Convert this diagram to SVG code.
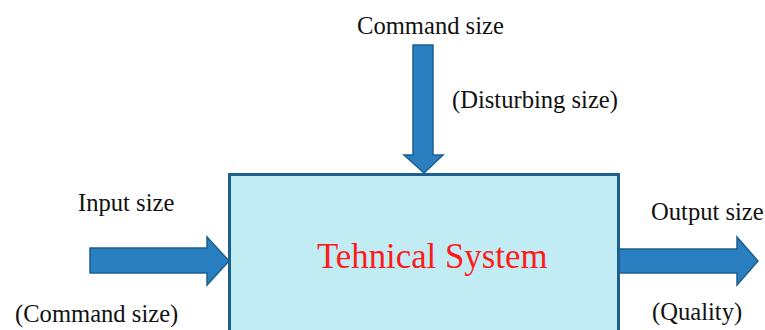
<svg xmlns="http://www.w3.org/2000/svg" width="765" height="330" viewBox="0 0 765 330">
  <style>
    .lbl { font-family: "Liberation Serif", "Times New Roman", serif; font-size: 24.6px; fill: #111111; }
    .title { font-family: "Liberation Serif", "Times New Roman", serif; font-size: 34.8px; fill: #ff1a1a; }
    .arrow { fill: #2a7fc0; stroke: #1d5f8e; stroke-width: 1.5; stroke-linejoin: miter; }
    .box { fill: #c2ecf3; stroke: #1d5f8e; stroke-width: 3; }
  </style>
  <rect width="765" height="330" fill="#ffffff"/>

  <g id="connectors">
    <!-- command / disturbance input from above -->
    <path class="arrow" d="M413,45 H433 V155 H443 L424,173 L404,155 H413 Z"/>
    <!-- input arrow from the left -->
    <path class="arrow" d="M90,248 H207 V237 L229,261 L207,285 V273 H90 Z"/>
    <!-- output arrow to the right -->
    <path class="arrow" d="M619,249 H737 V237 L758,261 L737,285 V273 H619 Z"/>
  </g>

  <g id="system">
    <rect class="box" x="229.5" y="174.5" width="389" height="170"/>
    <text class="title" x="317" y="268">Tehnical System</text>
  </g>

  <g id="labels">
    <text class="lbl" x="357" y="34">Command size</text>
    <text class="lbl" x="452" y="108">(Disturbing size)</text>
    <text class="lbl" x="78" y="211">Input size</text>
    <text class="lbl" x="15" y="322">(Command size)</text>
    <text class="lbl" x="651" y="220">Output size</text>
    <text class="lbl" x="652" y="320">(Quality)</text>
  </g>
</svg>
